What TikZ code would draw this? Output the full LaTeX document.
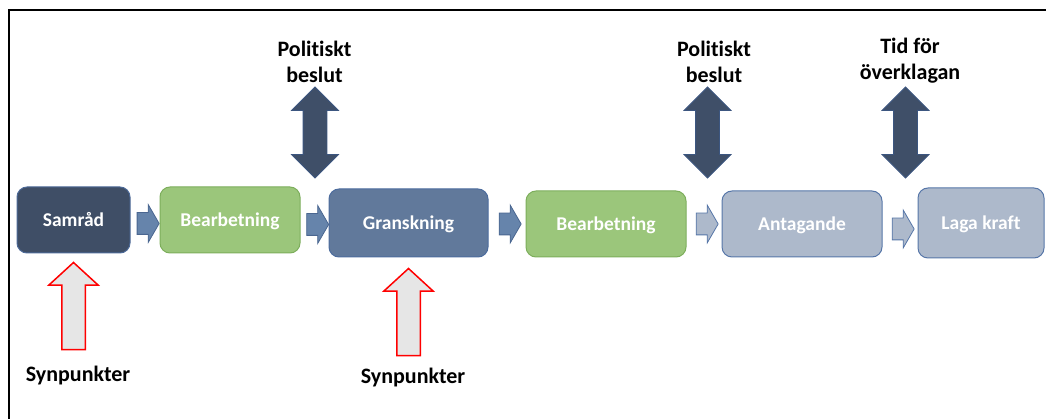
\documentclass[tikz,border=0pt]{standalone}
\usepackage{fontspec}
\setmainfont[Ligatures=NoCommon]{Carlito}
\usetikzlibrary{shapes.arrows,calc}

\definecolor{samradfill}{HTML}{3F4E66}
\definecolor{samradline}{HTML}{4D6A98}
\definecolor{bearbfill}{HTML}{9BC67B}
\definecolor{bearbline}{HTML}{7DAE5C}
\definecolor{granskfill}{HTML}{61799B}
\definecolor{granskline}{HTML}{4C6C9E}
\definecolor{palefill}{HTML}{ADB9CB}
\definecolor{paleline}{HTML}{5676A8}
\definecolor{flowfill}{HTML}{6684AB}
\definecolor{flowline}{HTML}{4A6690}
\definecolor{beslutfill}{HTML}{3F4F68}
\definecolor{beslutline}{HTML}{3C5680}
\definecolor{inputfill}{HTML}{E6E6E6}

\tikzset{
  stage/.style={rounded corners=10pt, minimum height=66pt, inner sep=0pt, line width=1pt,
    text height=16pt, text depth=2pt, text=white, font=\fontsize{19.5}{24}\selectfont\bfseries},
  flow/.style={single arrow, minimum height=22pt, inner xsep=0pt, inner ysep=10.5pt,
    single arrow head extend=8pt, single arrow tip angle=120, line width=0.8pt},
  beslut/.style={double arrow, rotate=90, minimum height=91pt, inner xsep=0pt, inner ysep=11.5pt,
    double arrow head extend=11.5pt, fill=beslutfill, draw=beslutline, line width=0.8pt},
  input/.style={single arrow, rotate=90, minimum height=87pt, inner xsep=0pt, inner ysep=11pt,
    single arrow head extend=13pt, single arrow tip angle=95, fill=inputfill, draw=red, line width=1.5pt},
  label/.style={align=center, font=\fontsize{22}{26.5}\selectfont\bfseries}
}

\begin{document}
\begin{tikzpicture}[x=1pt,y=-1pt]
  \useasboundingbox (0,0) rectangle (1046,419);
  \draw[line width=2pt] (9,419) -- (9,10) -- (1046,10);

  % stages
  \node[stage, fill=samradfill, draw=samradline, minimum width=113pt] (samrad) at (73.5,220) {Samråd};
  \node[stage, fill=bearbfill, draw=bearbline, minimum width=140pt] (bearb1) at (230,220) {Bearbetning};
  \node[stage, fill=granskfill, draw=granskline, minimum width=159pt, minimum height=68pt] (gransk) at (408.5,223) {Granskning};
  \node[stage, fill=bearbfill, draw=bearbline, minimum width=160pt] (bearb2) at (606,224) {Bearbetning};
  \node[stage, fill=palefill, draw=paleline, minimum width=160pt] (antag) at (802,224) {Antagande};
  \node[stage, fill=palefill, draw=paleline, minimum width=126pt, minimum height=70pt] (laga) at (981,223) {Laga kraft};

  % arrows between stages
  \foreach \a/\b/\dy [count=\i] in {samrad/bearb1/3.5, bearb1/gransk/3, gransk/bearb2/0.5}
    \node[flow, fill=flowfill, draw=flowline] (flow\i) at ($(\a.east)!.5!(\b.west)+(0,\dy)$) {};
  \foreach \a/\b/\dy [count=\i from 4] in {bearb2/antag/0, antag/laga/5.5}
    \node[flow, fill=palefill, draw=paleline] (flow\i) at ($(\a.east)!.5!(\b.west)+(0,\dy)$) {};

  % decisions
  \node[beslut] (beslut1) at (315,132.5) {};
  \node[beslut] (beslut2) at (707.5,132.5) {};
  \node[beslut] (overkl) at (905.5,132.5) {};
  \node[label, anchor=base] (beslut1txt) at (314.5,83) {Politiskt\\beslut};
  \node[label, anchor=base] (beslut2txt) at (714,83) {Politiskt\\beslut};
  \node[label, anchor=base] (overkltxt) at (910,80) {Tid för\\överklagan};

  % synpunkter
  \node[input, anchor=tip] (input1) at ([yshift=-8pt]samrad.south) {};
  \node[input, anchor=tip] (input2) at ([yshift=-10pt]gransk.south) {};
  \node[label, anchor=base] (input1txt) at (78,381) {Synpunkter};
  \node[label, anchor=base] (input2txt) at (413,383) {Synpunkter};
\end{tikzpicture}
\end{document}
